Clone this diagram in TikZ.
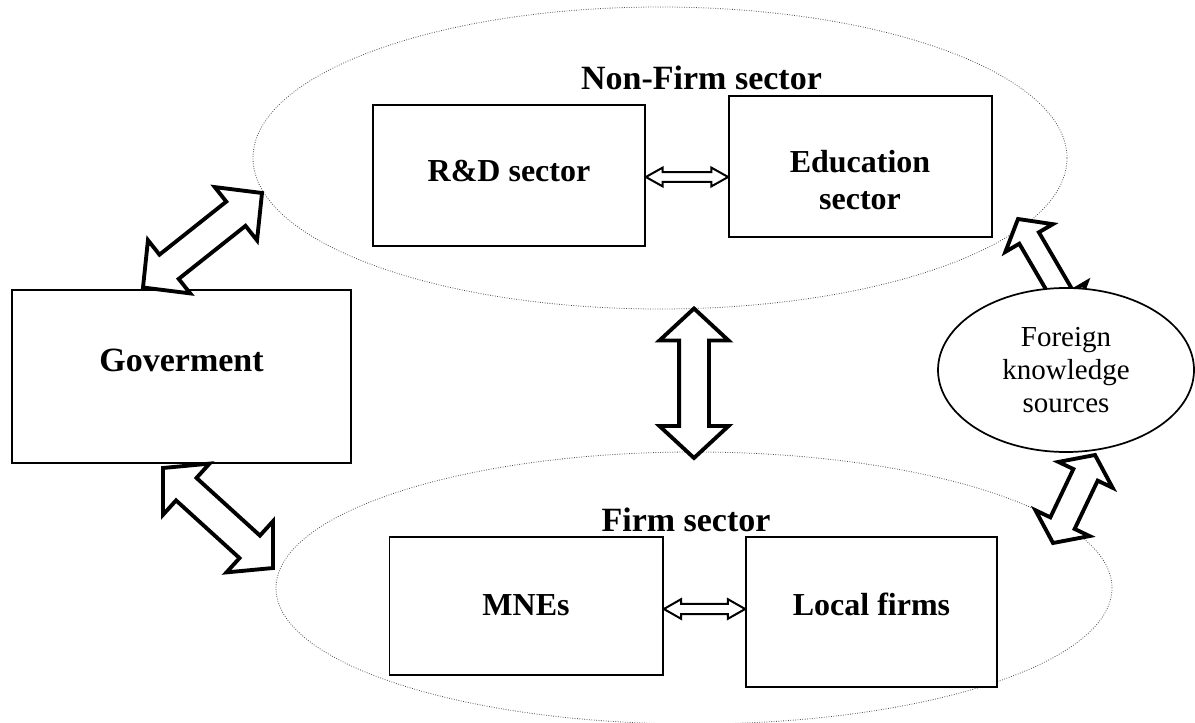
\documentclass[tikz,border=0pt]{standalone}
\usepackage{fontspec}
\setmainfont{Liberation Serif}
\usetikzlibrary{calc,shapes.geometric,fit}

% #1 style, #2 end A, #3 end B, #4 half shaft width, #5 half head width, #6 head length
\newcommand\fatarrow[6][]{%
  \coordinate (fa1) at ($(#2)!#6!(#3)$);
  \coordinate (fa2) at ($(#3)!#6!(#2)$);
  \draw[#1] (#2) -- ($(fa1)!#5!90:(#3)$) -- ($(fa1)!#4!90:(#3)$)
    -- ($(fa2)!#4!-90:(#2)$) -- ($(fa2)!#5!-90:(#2)$) -- (#3)
    -- ($(fa2)!#5!90:(#2)$) -- ($(fa2)!#4!90:(#2)$)
    -- ($(fa1)!#4!-90:(#3)$) -- ($(fa1)!#5!-90:(#3)$) -- cycle;
}

\begin{document}
\begin{tikzpicture}[x=0.75pt,y=-0.75pt,
  box/.style={draw, line width=1.3pt, fill=white, inner sep=0pt},
  zone/.style={draw=black!70, dash pattern=on 0.6pt off 1.2pt, line width=0.6pt, ellipse, inner sep=0pt},
  bigarrow/.style={draw, line width=2.9pt, fill=white, line join=miter},
  smallarrow/.style={draw, line width=1.5pt, fill=white, line join=miter},
  headtxt/.style={font=\fontsize{25.5pt}{30pt}\selectfont\bfseries},
  lbl/.style={font=\fontsize{24pt}{27.75pt}\selectfont\bfseries, align=center},
]
\useasboundingbox (0,0) rectangle (1195,723);

% sector zones
\node[zone, minimum width=610.5pt, minimum height=226.5pt] (nf) at (660,158) {};
\node[zone, minimum width=627pt, minimum height=204pt] (fs) at (694,588) {};

% boxes
\node[box, fit={(373,105) (645,246)}] (rd) {};
\node[box, fit={(729,96) (992,237)}] (edu) {};
\node[box, fit={(12,290) (351,463)}] (gov) {};
\node[box, fit={(389.5,537) (663,675)}] (mne) {};
\node[box, fit={(746,537) (997,687)}] (loc) {};

% labels
\node[headtxt, anchor=base] (nft) at (701.5,90) {Non-Firm sector};
\node[headtxt, anchor=base] (fst) at (686,531) {Firm sector};
\node[headtxt, anchor=base] (govt) at (181.5,371.7) {Goverment};
\node[lbl, anchor=base] (rdt) at (509,182) {R\&D sector};
\node[lbl] (edut) at (860,180.5) {Education\\sector};
\node[lbl, anchor=base] (mnet) at (526,615) {MNEs};
\node[lbl, anchor=base] (loct) at (871.5,615) {Local firms};

% arrow end points
\coordinate (g1a) at (143,287.5);
\coordinate (g1b) at (262,193);
\coordinate (g2a) at (163,468);
\coordinate (g2b) at (273,568);
\coordinate (va) at (694,308.5);
\coordinate (vb) at (694,458);
\coordinate (f1a) at (1018,219);
\coordinate (f1b) at (1074,315);
\coordinate (f2a) at (1053,543);
\coordinate (f2b) at (1095,455);
\coordinate (s1a) at (rd.east |- 0,177);
\coordinate (s1b) at (edu.west |- 0,177);
\coordinate (s2a) at (mne.east |- 0,609);
\coordinate (s2b) at (loc.west |- 0,609);

% hollow double arrows
\fatarrow[bigarrow]{g1a}{g1b}{11.6pt}{25.5pt}{25pt}
\fatarrow[bigarrow]{g2a}{g2b}{11.4pt}{25.9pt}{23.6pt}
\fatarrow[bigarrow]{va}{vb}{11.2pt}{25.9pt}{24pt}
\fatarrow[bigarrow]{f1a}{f1b}{8.5pt}{20.6pt}{16.5pt}
\fatarrow[bigarrow]{f2a}{f2b}{10.1pt}{22.5pt}{16.5pt}
\fatarrow[smallarrow]{s1a}{s1b}{3.6pt}{7pt}{12.5pt}
\fatarrow[smallarrow]{s2a}{s2b}{3.9pt}{7.4pt}{13pt}

% foreign knowledge sources
\node[draw, ellipse, line width=1.3pt, fill=white, inner sep=0pt,
      minimum width=192pt, minimum height=123pt, align=center,
      font=\fontsize{21.75pt}{24.75pt}\selectfont] (fks) at (1066,370)
      {Foreign\\knowledge\\sources};
\end{tikzpicture}
\end{document}
